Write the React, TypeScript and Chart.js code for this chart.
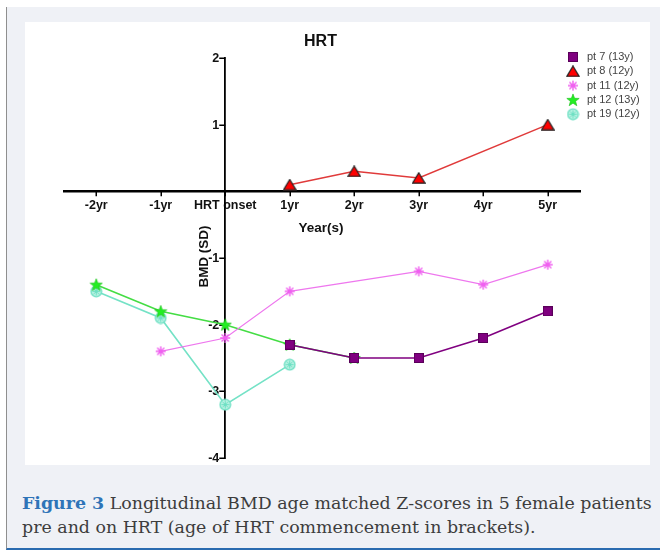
import React, { useEffect, useRef } from 'react';
import { Chart, registerables } from 'chart.js';

Chart.register(...registerables);

// ---- data ----
const chartTitle = 'HRT';
const xAxisTitle = 'Year(s)';
const yAxisTitle = 'BMD (SD)';
const xTickValues = [-2, -1, 0, 1, 2, 3, 4, 5];
const xTickLabels = ['-2yr', '-1yr', 'HRT onset', '1yr', '2yr', '3yr', '4yr', '5yr'];
const yTickValues = [-4, -3, -2, -1, 0, 1, 2];
const yTickLabels = ['-4', '-3', '-2', '-1', '', '1', '2'];

const seriesNames = ['pt 7 (13y)', 'pt 8 (12y)', 'pt 11 (12y)', 'pt 12 (13y)', 'pt 19 (12y)'];
const pt7X = [1, 2, 3, 4, 5];
const pt7Y = [-2.3, -2.5, -2.5, -2.2, -1.8];
const pt8X = [1, 2, 3, 5];
const pt8Y = [0.1, 0.3, 0.2, 1.0];
const pt11X = [-1, 0, 1, 3, 4, 5];
const pt11Y = [-2.4, -2.2, -1.5, -1.2, -1.4, -1.1];
const pt12X = [-2, -1, 0, 1, 2];
const pt12Y = [-1.4, -1.8, -2.0, -2.3, -2.5];
const pt19X = [-2, -1, 0, 1];
const pt19Y = [-1.5, -1.9, -3.2, -2.6];

const FONT = '"Liberation Sans", Arial, sans-serif';

function mk(w: number, h: number, draw: (c: CanvasRenderingContext2D) => void) {
  const cv = document.createElement('canvas');
  cv.width = w;
  cv.height = h;
  const c = cv.getContext('2d')!;
  draw(c);
  return cv;
}

function makeMarkers() {
  const square = mk(10, 10, (c) => {
    c.fillStyle = '#800080';
    c.fillRect(0, 0, 10, 10);
    c.strokeStyle = '#5a005a';
    c.lineWidth = 1;
    c.strokeRect(0.5, 0.5, 9, 9);
  });
  const triangle = mk(14, 12, (c) => {
    c.beginPath();
    c.moveTo(7, 0.8);
    c.lineTo(13.2, 11.2);
    c.lineTo(0.8, 11.2);
    c.closePath();
    c.fillStyle = '#ff0000';
    c.fill();
    c.strokeStyle = '#222';
    c.lineWidth = 1.2;
    c.stroke();
  });
  const asterisk = mk(12, 12, (c) => {
    c.strokeStyle = '#f060f0';
    c.lineWidth = 1.4;
    c.beginPath();
    for (let i = 0; i < 4; i++) {
      const a = (i * Math.PI) / 4;
      c.moveTo(6 + Math.cos(a) * 5, 6 + Math.sin(a) * 5);
      c.lineTo(6 - Math.cos(a) * 5, 6 - Math.sin(a) * 5);
    }
    c.stroke();
  });
  const star = mk(14, 14, (c) => {
    c.beginPath();
    for (let i = 0; i < 10; i++) {
      const r = i % 2 === 0 ? 6.5 : 2.7;
      const a = -Math.PI / 2 + (i * Math.PI) / 5;
      const px = 7 + Math.cos(a) * r;
      const py = 7.5 + Math.sin(a) * r;
      if (i === 0) c.moveTo(px, py);
      else c.lineTo(px, py);
    }
    c.closePath();
    c.fillStyle = '#22ee22';
    c.fill();
    c.strokeStyle = '#18c018';
    c.lineWidth = 0.6;
    c.stroke();
  });
  const circ = mk(13, 13, (c) => {
    c.beginPath();
    c.arc(6.5, 6.5, 5.3, 0, Math.PI * 2);
    c.fillStyle = '#b8f2e2';
    c.fill();
    c.strokeStyle = '#6fe0c4';
    c.lineWidth = 1.3;
    c.stroke();
    c.beginPath();
    for (let i = 0; i < 4; i++) {
      const a = (i * Math.PI) / 4;
      c.moveTo(6.5 + Math.cos(a) * 4, 6.5 + Math.sin(a) * 4);
      c.lineTo(6.5 - Math.cos(a) * 4, 6.5 - Math.sin(a) * 4);
    }
    c.lineWidth = 1;
    c.stroke();
  });
  return [square, triangle, asterisk, star, circ];
}

const toPts = (xs: number[], ys: number[]) => xs.map((x, i) => ({ x, y: ys[i] }));

export default function App() {
  const ref = useRef<HTMLCanvasElement | null>(null);

  useEffect(() => {
    if (!ref.current) return;
    const markers = makeMarkers();
    const lineColors = ['#800080', '#e03a3a', '#ee77ee', '#44dd44', '#74e2c6'];
    const lineWidths = [1.6, 1.5, 1.2, 1.6, 1.6];
    const allX = [pt7X, pt8X, pt11X, pt12X, pt19X];
    const allY = [pt7Y, pt8Y, pt11Y, pt12Y, pt19Y];

    const axisDecor = {
      id: 'axisDecor',
      beforeDatasetsDraw(chart: any) {
        const { ctx, scales } = chart;
        const px0 = scales.x.getPixelForValue(0);
        const py0 = scales.y.getPixelForValue(0);
        ctx.save();
        ctx.strokeStyle = '#000';
        ctx.lineWidth = 1.5;
        ctx.beginPath();
        yTickValues.forEach((v) => {
          const py = Math.round(scales.y.getPixelForValue(v)) + 0.25;
          ctx.moveTo(px0 - 6, py);
          ctx.lineTo(px0, py);
        });
        xTickValues.forEach((v) => {
          const px = Math.round(scales.x.getPixelForValue(v)) + 0.25;
          ctx.moveTo(px, py0);
          ctx.lineTo(px, py0 + 5);
        });
        ctx.stroke();
        ctx.fillStyle = '#111';
        ctx.font = `bold 12.5px ${FONT}`;
        ctx.textAlign = 'right';
        ctx.textBaseline = 'middle';
        yTickValues.forEach((v, i) => {
          if (yTickLabels[i]) ctx.fillText(yTickLabels[i], px0 - 6, scales.y.getPixelForValue(v) + 0.5);
        });
        ctx.restore();
      },
    };

    const overlay = {
      id: 'overlay',
      afterDraw(chart: any) {
        const { ctx, chartArea, scales } = chart;
        const cx = (chartArea.left + chartArea.right) / 2;
        ctx.save();
        ctx.fillStyle = '#111';
        ctx.textAlign = 'center';
        ctx.textBaseline = 'middle';
        ctx.font = `bold 16px ${FONT}`;
        ctx.fillText(chartTitle, cx - 1.5, chartArea.top - 16);
        ctx.font = `bold 13.5px ${FONT}`;
        ctx.fillText(xAxisTitle, cx - 1, scales.y.getPixelForValue(0) + 37);
        ctx.save();
        ctx.translate(scales.x.getPixelForValue(0) - 21, (chartArea.top + chartArea.bottom) / 2 - 1.5);
        ctx.rotate(-Math.PI / 2);
        ctx.fillText(yAxisTitle, 0, 0);
        ctx.restore();
        // legend
        ctx.textAlign = 'left';
        ctx.font = `11px ${FONT}`;
        ctx.fillStyle = '#444';
        seriesNames.forEach((name, i) => {
          const yy = 35 + i * 14.3;
          const m = markers[i];
          ctx.drawImage(m, chartArea.right - 7 - m.width / 2, yy - m.height / 2);
          ctx.fillText(name, chartArea.right + 7, yy);
        });
        ctx.restore();
      },
    };

    const chart = new Chart(ref.current, {
      type: 'line',
      data: {
        datasets: seriesNames.map((name, i) => ({
          label: name,
          data: toPts(allX[i], allY[i]),
          borderColor: lineColors[i],
          backgroundColor: lineColors[i],
          borderWidth: lineWidths[i],
          pointStyle: markers[i],
          pointRadius: 5,
          pointHoverRadius: 5,
          tension: 0,
          fill: false,
        })),
      },
      options: {
        animation: false,
        responsive: false,
        devicePixelRatio: 1,
        parsing: false as any,
        events: [],
        layout: { padding: { left: 39, right: 70, top: 36, bottom: 7 } },
        plugins: {
          legend: { display: false },
          title: { display: false },
          tooltip: { enabled: false },
        },
        scales: {
          x: {
            type: 'linear',
            min: -2.5,
            max: 5.5,
            position: { y: 0 } as any,
            afterBuildTicks: (s: any) => {
              s.ticks = xTickValues.map((v) => ({ value: v }));
            },
            ticks: {
              autoSkip: false,
              maxRotation: 0,
              padding: 2,
              color: '#111',
              font: { family: FONT, weight: 'bold', size: 12.5 },
              callback: (v: any) => {
                const i = xTickValues.indexOf(Number(v));
                return i >= 0 ? xTickLabels[i] : '';
              },
            },
            grid: { drawOnChartArea: false, drawTicks: true, tickLength: 5, color: 'rgba(0,0,0,0)' },
            border: { display: true, color: '#000', width: 2.6 },
          },
          y: {
            type: 'linear',
            min: -4,
            max: 2,
            position: { x: 0 } as any,
            afterBuildTicks: (s: any) => {
              s.ticks = yTickValues.map((v) => ({ value: v }));
            },
            ticks: { display: false },
            grid: { drawOnChartArea: false, drawTicks: false, color: 'rgba(0,0,0,0)' },
            border: { display: true, color: '#000', width: 1.8 },
          },
        },
      },
      plugins: [axisDecor, overlay],
    } as any);
    return () => chart.destroy();
  }, []);

  return (
    <div style={{ position: 'absolute', left: 0, top: 0, width: 660, height: 552, background: '#fff', overflow: 'hidden' }}>
      <div
        style={{
          position: 'absolute',
          left: 6,
          top: 7,
          width: 654,
          height: 543,
          background: '#eff1f6',
          borderLeft: '1.5px solid #8f8f8f',
          borderBottom: '2px solid #2a6bb0',
          boxSizing: 'border-box',
        }}
      />
      <canvas
        ref={ref}
        width={625}
        height={443}
        style={{ position: 'absolute', left: 25, top: 22, width: 625, height: 443, background: '#fff' }}
      />
      <div
        style={{
          position: 'absolute',
          left: 22,
          top: 491,
          fontFamily: '"DejaVu Serif", serif',
          fontSize: 17.4,
          lineHeight: '24px',
          color: '#3d3d3d',
          whiteSpace: 'nowrap',
        }}
      >
        <div>
          <span style={{ color: '#2e74b8', fontWeight: 'bold' }}>Figure 3</span> Longitudinal BMD age matched Z-scores in 5 female patients
        </div>
        <div>pre and on HRT (age of HRT commencement in brackets).</div>
      </div>
    </div>
  );
}
